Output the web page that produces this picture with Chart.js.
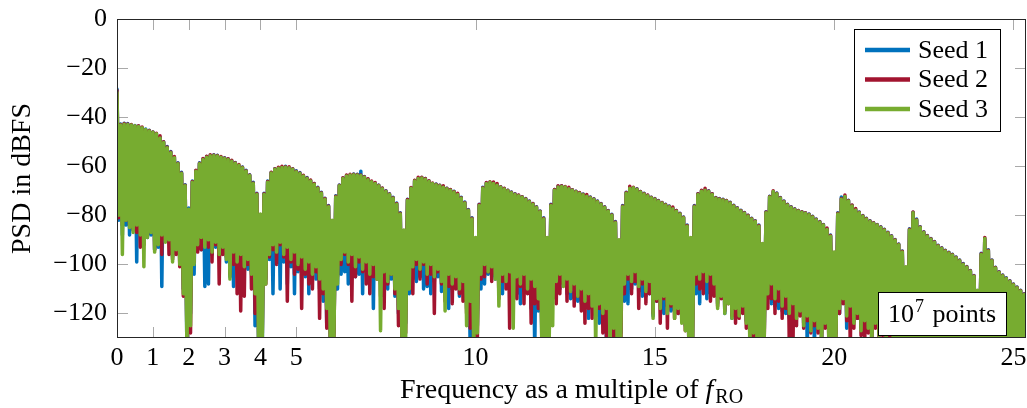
<!DOCTYPE html>
<html><head><meta charset="utf-8">
<script src="https://cdn.jsdelivr.net/npm/chart.js@4.4.0/dist/chart.umd.min.js"></script>
<style>html,body{margin:0;padding:0;background:#fff;}#wrap{width:1027px;height:408px;}</style>
</head><body><div id="wrap"><canvas id="c" width="1027" height="408"></canvas></div>
<script>
const seriesNames = ['Seed 1', 'Seed 2', 'Seed 3'];
const seriesColors = ['#0072BD', '#A2142F', '#77AC30'];
const xTickValues = [0, 1, 2, 3, 4, 5, 10, 15, 20, 25];
const yTickValues = [0, -20, -40, -60, -80, -100, -120];
const freqStart = 0, freqStep = 0.1;

// upper envelope (at f = i*0.1) and lower excursions (at f = i*0.1 + 0.05), dBFS
const seed1High = [
-28.5,-42.8,-42.5,-42.6,-43.3,-43.4,-43.6,-44.5,-44.8,-45.3,-46.0,-46.9,-48.2,-50.0,-52.0,-54.0,-56.3,-58.6,-62.5,-67.5,
-77.0,-66.0,-61.8,-58.6,-57.0,-56.0,-55.6,-55.3,-55.5,-56.5,-56.5,-57.0,-57.8,-58.5,-59.8,-60.3,-61.6,-63.5,-66.5,-71.0,
-80.0,-71.0,-66.0,-62.6,-61.0,-60.9,-60.6,-60.0,-60.8,-61.0,-61.8,-62.6,-64.2,-64.6,-65.8,-67.0,-68.6,-70.6,-73.0,-76.0,
-82.5,-72.0,-67.6,-64.8,-63.8,-63.7,-63.2,-63.3,-62.0,-64.2,-65.2,-66.5,-66.8,-67.7,-69.0,-70.0,-71.2,-72.6,-75.0,-79.0,
-86.5,-73.5,-68.8,-65.8,-65.2,-64.6,-65.0,-66.0,-67.2,-67.2,-67.7,-68.3,-69.0,-69.6,-70.2,-71.3,-72.6,-74.6,-77.6,-81.0,
-89.5,-75.5,-68.6,-66.8,-66.6,-66.7,-67.5,-68.4,-69.1,-69.8,-70.5,-71.2,-71.8,-72.4,-73.2,-74.2,-75.2,-76.5,-78.2,-81.0,
-89.5,-75.5,-69.5,-68.2,-68.0,-68.7,-69.0,-69.6,-70.2,-70.8,-71.3,-72.0,-72.5,-73.3,-74.2,-75.2,-76.5,-78.0,-79.6,-82.5,
-90.5,-76.0,-70.6,-68.8,-68.9,-69.2,-70.3,-71.0,-71.8,-72.6,-73.2,-74.0,-74.8,-75.5,-76.2,-77.0,-78.0,-79.2,-80.7,-84.0,
-89.5,-76.0,-71.2,-70.0,-69.9,-70.0,-71.2,-72.7,-73.2,-73.5,-74.0,-74.7,-75.9,-76.9,-77.9,-78.9,-80.0,-81.2,-82.2,-84.0,
-92.0,-78.5,-72.2,-70.5,-70.9,-72.7,-74.2,-75.5,-76.5,-77.3,-78.0,-78.5,-79.0,-79.5,-80.4,-81.5,-82.5,-83.7,-85.5,-88.0,
-95.5,-79.0,-72.5,-72.6,-73.9,-75.9,-77.5,-78.7,-80.1,-81.2,-82.2,-83.0,-83.7,-84.7,-85.7,-86.9,-88.3,-89.9,-91.7,-94.5,
-101.5,-85.5,-78.8,-81.5,-84.7,-86.7,-88.2,-89.5,-90.7,-92.2,-93.2,-94.2,-95.1,-95.9,-97.0,-98.2,-99.6,-100.9,-102.5,-104.5,
-111.0,-95.5,-89.6,-94.0,-98.2,-101.2,-103.0,-104.3,-105.4,-106.7,-108.0,-109.2,-110.5,-112.0,-113.2
];
const seed1Low = [
-82,-88,-84,-88,-86,-99,-87,-90,-89,-88,-94,-93,-109,-90,-91,-97,-95,-99,-110,-135,
-120,-104,-91,-94,-109,-108,-96,-93,-94,-92,-99,-105,-109,-97,-95,-100,-102,-103,-125,-135,
-135,-106,-98,-112,-97,-110,-99,-108,-101,-112,-103,-100,-105,-112,-102,-106,-110,-115,-125,-130,
-128,-110,-104,-103,-108,-100,-105,-104,-112,-102,-100,-118,-101,-108,-103,-110,-106,-113,-120,-130,
-124,-112,-106,-107,-105,-110,-109,-112,-107,-105,-111,-110,-118,-110,-107,-113,-112,-118,-135,-135,
-125,-110,-108,-104,-105,-106,-108,-112,-106,-108,-109,-112,-116,-108,-111,-118,-135,-119,-135,-135,
-132,-110,-112,-110,-108,-112,-114,-114,-115,-116,-112,-122,-118,-118,-124,-121,-132,-125,-130,-133,
-128,-115,-116,-110,-108,-111,-113,-113,-112,-121,-115,-115,-120,-117,-119,-119,-120,-121,-125,-135,
-130,-112,-116,-108,-114,-112,-110,-116,-111,-120,-113,-122,-117,-120,-119,-123,-130,-127,-133,-135,
-128,-114,-116,-117,-118,-119,-120,-122,-124,-121,-118,-124,-135,-126,-135,-125,-130,-123,-128,-135,
-128,-120,-113,-126,-118,-123,-122,-126,-128,-125,-130,-123,-128,-126,-133,-127,-133,-135,-135,-135,
-135,-135,-135,-135,-135,-135,-135,-135,-135,-135,-135,-135,-135,-135,-135,-135,-135,-135,-135,-135,
-135,-135,-135,-135,-135,-135,-135,-135,-135,-135,-135,-135,-135,-135,-135
];
const seed2High = [
-29.0,-43.0,-42.6,-42.8,-43.0,-43.6,-43.5,-44.0,-45.2,-45.4,-46.0,-46.6,-47.6,-50.0,-52.2,-54.2,-56.0,-58.8,-62.8,-67.8,
-77.8,-66.2,-61.6,-58.8,-56.8,-55.9,-55.3,-55.4,-55.6,-56.0,-56.6,-57.0,-57.6,-58.6,-59.3,-60.4,-61.8,-63.6,-66.8,-71.2,
-79.8,-71.2,-66.2,-62.5,-61.0,-60.4,-60.0,-60.2,-60.2,-61.0,-62.0,-62.8,-63.7,-64.8,-65.6,-67.0,-68.8,-70.8,-73.2,-76.2,
-82.2,-72.2,-67.8,-64.7,-63.6,-63.3,-63.3,-63.4,-63.6,-64.3,-65.1,-66.0,-66.6,-67.8,-68.9,-70.1,-71.3,-72.8,-75.2,-79.2,
-86.2,-73.6,-68.7,-65.7,-64.5,-64.5,-65.0,-65.9,-66.8,-67.3,-67.8,-68.0,-69.0,-69.5,-70.3,-71.0,-72.8,-74.8,-77.8,-81.2,
-89.2,-75.6,-68.8,-66.6,-66.3,-66.4,-67.0,-68.4,-69.0,-69.8,-70.6,-71.3,-71.7,-72.4,-73.3,-74.3,-75.2,-76.6,-78.3,-81.2,
-89.2,-75.7,-69.5,-68.0,-68.0,-68.3,-68.6,-69.6,-70.2,-70.7,-71.4,-71.5,-72.6,-73.4,-74.3,-75.3,-76.6,-78.1,-79.8,-82.7,
-90.2,-76.2,-70.7,-68.2,-68.6,-69.3,-70.3,-71.1,-71.7,-72.6,-73.3,-74.1,-74.8,-75.6,-76.3,-76.6,-78.0,-79.3,-80.8,-84.2,
-89.2,-76.2,-71.2,-69.8,-69.0,-70.1,-71.2,-72.8,-73.3,-73.6,-74.0,-74.8,-76.0,-77.0,-78.0,-79.0,-80.0,-81.3,-82.3,-84.2,
-91.7,-78.7,-72.3,-70.0,-71.0,-72.8,-74.3,-75.6,-76.6,-77.4,-78.0,-78.6,-79.0,-79.6,-80.5,-81.6,-82.6,-83.8,-85.2,-88.2,
-95.2,-79.2,-73.2,-71.7,-74.0,-75.8,-77.2,-78.8,-80.2,-81.3,-82.3,-83.0,-83.8,-84.8,-85.8,-87.0,-88.4,-90.0,-91.8,-94.6,
-101.2,-85.7,-78.7,-81.8,-84.8,-86.8,-88.3,-89.6,-90.8,-92.3,-93.3,-94.3,-95.2,-96.0,-97.1,-98.3,-99.8,-101.0,-102.6,-104.6,
-110.7,-95.7,-89.0,-94.2,-98.3,-101.3,-103.1,-104.4,-105.6,-106.8,-108.1,-109.3,-110.6,-112.1,-113.3
];
const seed2Low = [
-81,-84,-82,-84,-86,-87,-93,-92,-88,-86,-94,-91,-96,-90,-96,-98,-96,-101,-113,-130,
-128,-99,-95,-94,-92,-93,-99,-92,-108,-96,-97,-104,-100,-112,-119,-113,-100,-110,-120,-130,
-130,-108,-97,-94,-100,-92,-97,-115,-99,-104,-102,-118,-104,-108,-110,-103,-122,-112,-126,-135,
-130,-105,-100,-96,-100,-115,-105,-99,-103,-108,-112,-105,-106,-113,-118,-108,-104,-112,-125,-135,
-128,-108,-112,-100,-106,-100,-108,-104,-120,-103,-108,-115,-109,-116,-110,-112,-115,-120,-126,-135,
-130,-106,-105,-103,-107,-104,-114,-107,-110,-126,-112,-114,-109,-116,-112,-124,-116,-118,-130,-135,
-133,-114,-116,-112,-108,-115,-110,-117,-113,-119,-124,-118,-122,-121,-118,-128,-130,-124,-133,-135,
-135,-112,-106,-112,-107,-118,-108,-116,-112,-120,-115,-124,-114,-126,-117,-122,-120,-123,-127,-135,
-133,-108,-110,-112,-106,-115,-113,-117,-114,-119,-116,-121,-124,-122,-120,-126,-132,-130,-135,-135,
-131,-118,-114,-120,-115,-122,-118,-135,-135,-125,-121,-126,-123,-128,-125,-128,-132,-126,-131,-135,
-131,-120,-116,-123,-135,-126,-122,-129,-135,-128,-135,-126,-130,-129,-135,-130,-135,-135,-135,-135,
-135,-135,-135,-135,-135,-135,-135,-135,-135,-135,-135,-135,-135,-135,-135,-135,-135,-135,-135,-135,
-135,-135,-135,-135,-135,-135,-135,-135,-135,-135,-135,-135,-135,-135,-135
];
const seed3High = [
-30.0,-43.2,-42.9,-43.0,-43.2,-43.5,-43.8,-44.3,-45.0,-45.6,-46.2,-46.8,-48.5,-50.3,-52.5,-54.5,-56.5,-59.0,-63.0,-68.0,
-77.5,-66.5,-62.0,-59.0,-57.3,-56.3,-55.7,-55.6,-55.8,-56.3,-56.8,-57.3,-58.0,-58.8,-59.6,-60.6,-62.0,-63.8,-67.0,-71.5,
-79.5,-71.5,-66.5,-62.8,-61.2,-60.8,-60.5,-60.4,-60.6,-61.2,-62.2,-63.0,-64.0,-65.0,-66.0,-67.3,-69.0,-71.0,-73.5,-76.5,
-82.0,-72.5,-68.0,-65.0,-64.0,-63.6,-63.5,-63.6,-63.8,-64.5,-65.5,-66.3,-67.0,-68.0,-69.2,-70.3,-71.5,-73.0,-75.5,-79.5,
-86.0,-74.0,-69.0,-66.0,-65.0,-64.8,-65.3,-66.2,-67.0,-67.5,-68.0,-68.6,-69.2,-69.8,-70.5,-71.5,-73.0,-75.0,-78.0,-81.5,
-89.0,-76.0,-69.0,-67.0,-66.5,-67.0,-67.8,-68.6,-69.3,-70.0,-70.8,-71.5,-72.0,-72.6,-73.5,-74.5,-75.5,-76.8,-78.5,-81.5,
-89.0,-76.0,-69.8,-68.5,-68.3,-68.5,-69.2,-69.8,-70.4,-71.0,-71.6,-72.2,-72.8,-73.6,-74.5,-75.5,-76.8,-78.3,-80.0,-83.0,
-90.0,-76.5,-71.0,-69.0,-68.8,-69.5,-70.5,-71.3,-72.0,-72.8,-73.5,-74.3,-75.0,-75.8,-76.5,-77.3,-78.3,-79.5,-81.0,-84.5,
-89.0,-76.5,-71.5,-70.2,-69.8,-70.3,-71.5,-73.0,-73.5,-73.8,-74.2,-75.0,-76.2,-77.2,-78.2,-79.2,-80.3,-81.5,-82.5,-84.5,
-91.5,-79.0,-72.5,-70.3,-71.2,-73.0,-74.5,-75.8,-76.8,-77.6,-78.2,-78.8,-79.2,-79.8,-80.7,-81.8,-82.8,-84.0,-85.8,-88.5,
-95.0,-79.5,-73.5,-72.3,-74.2,-76.2,-77.8,-79.0,-80.4,-81.5,-82.5,-83.2,-84.0,-85.0,-86.0,-87.2,-88.6,-90.2,-92.0,-95.0,
-101.0,-86.0,-79.0,-82.0,-85.0,-87.0,-88.5,-89.8,-91.0,-92.5,-93.5,-94.5,-95.4,-96.2,-97.3,-98.5,-100.0,-101.2,-102.8,-104.8,
-110.5,-96.0,-89.5,-94.5,-98.5,-101.5,-103.3,-104.6,-105.8,-107.0,-108.3,-109.5,-110.8,-112.3,-113.5
];
const seed3Low = [
-80,-96,-82,-85,-87,-84,-88,-101,-89,-87,-95,-92,-88,-91,-90,-99,-94,-100,-112,-135,
-125,-100,-92,-89,-93,-90,-95,-91,-96,-93,-98,-106,-95,-99,-96,-101,-98,-104,-112,-135,
-135,-108,-96,-92,-95,-91,-96,-93,-98,-95,-100,-97,-102,-99,-104,-101,-106,-110,-118,-135,
-130,-108,-98,-95,-99,-96,-101,-97,-102,-99,-104,-100,-106,-127,-103,-107,-104,-110,-118,-135,
-130,-110,-101,-98,-102,-99,-104,-100,-105,-102,-107,-119,-104,-108,-105,-110,-107,-125,-115,-135,
-128,-104,-100,-103,-101,-106,-117,-104,-107,-103,-126,-105,-108,-104,-110,-106,-109,-114,-135,-135,
-135,-125,-107,-104,-109,-106,-111,-108,-113,-110,-115,-112,-117,-135,-116,-120,-118,-135,-126,-135,
-130,-108,-104,-107,-103,-109,-106,-111,-107,-122,-114,-118,-113,-120,-116,-122,-118,-124,-127,-135,
-135,-104,-106,-103,-107,-104,-108,-118,-113,-120,-116,-122,-118,-121,-117,-124,-135,-128,-135,-135,
-130,-112,-108,-114,-110,-117,-113,-120,-116,-122,-119,-125,-121,-127,-123,-126,-135,-124,-130,-135,
-130,-118,-114,-121,-117,-124,-120,-127,-123,-126,-135,-124,-129,-127,-135,-128,-135,-135,-135,-135,
-135,-135,-135,-135,-135,-135,-135,-135,-135,-135,-135,-135,-135,-135,-135,-135,-135,-135,-135,-135,
-135,-135,-135,-135,-135,-135,-135,-135,-135,-135,-135,-135,-135,-135,-135
];

function zigzag(high, low) {
  const pts = [];
  const n = Math.min(high.length, low.length);
  for (let i = 0; i < n; i++) {
    const f = freqStart + i * freqStep;
    pts.push({x: f, y: high[i]});
    pts.push({x: f + freqStep / 2, y: low[i]});
  }
  return pts;
}

const SERIF = '"Liberation Serif", "DejaVu Serif", serif';
const highs = [seed1High, seed2High, seed3High];
const lows = [seed1Low, seed2Low, seed3Low];

const decor = {
  id: 'decor',
  beforeDatasetsDraw(chart) {
    const {ctx, chartArea: a, scales: {x, y}} = chart;
    ctx.save();
    ctx.strokeStyle = '#a9a9a9';
    ctx.lineWidth = 1;
    ctx.beginPath();
    xTickValues.forEach(v => {
      const p = Math.round(x.getPixelForValue(v)) + 0.5;
      ctx.moveTo(p, a.bottom); ctx.lineTo(p, a.bottom - 11);
      ctx.moveTo(p, a.top); ctx.lineTo(p, a.top + 11);
    });
    yTickValues.forEach(v => {
      const p = Math.round(y.getPixelForValue(v)) + 0.5;
      ctx.moveTo(a.left, p); ctx.lineTo(a.left + 11, p);
      ctx.moveTo(a.right, p); ctx.lineTo(a.right - 11, p);
    });
    ctx.stroke();
    ctx.restore();
  },
  afterDatasetsDraw(chart) {
    const {ctx, chartArea: a} = chart;
    ctx.save();
    ctx.strokeStyle = '#262626';
    ctx.lineWidth = 1;
    ctx.strokeRect(Math.floor(a.left) + 0.5, Math.floor(a.top) + 0.5,
      Math.round(a.right - a.left) - 1, Math.round(a.bottom - a.top) - 1);
    ctx.restore();
  },
  afterDraw(chart) {
    const {ctx, chartArea: a} = chart;
    ctx.save();
    // legend
    const lx = a.right - 172, ly = a.top + 10, lw = 146, lh = 102;
    ctx.fillStyle = '#fff';
    ctx.fillRect(lx, ly, lw, lh);
    ctx.strokeStyle = '#000'; ctx.lineWidth = 1;
    ctx.strokeRect(lx + 0.5, ly + 0.5, lw, lh);
    ctx.font = '26px ' + SERIF;
    ctx.textBaseline = 'middle';
    ctx.textAlign = 'left';
    chart.data.datasets.forEach((ds, k) => {
      const yy = ly + 21 + k * 29.5;
      ctx.strokeStyle = ds.borderColor; ctx.lineWidth = 4.5; ctx.lineCap = 'butt';
      ctx.beginPath(); ctx.moveTo(lx + 11, yy); ctx.lineTo(lx + 56, yy); ctx.stroke();
      ctx.fillStyle = '#000';
      ctx.fillText(ds.label, lx + 64, yy + 1);
    });
    // annotation box
    const bx = a.right - 148, by = a.bottom - 46, bw = 128, bh = 43;
    ctx.fillStyle = '#fff';
    ctx.fillRect(bx, by, bw, bh);
    ctx.strokeStyle = '#000'; ctx.lineWidth = 1;
    ctx.strokeRect(bx + 0.5, by + 0.5, bw, bh);
    ctx.fillStyle = '#000';
    ctx.textBaseline = 'alphabetic';
    const base = by + 30;
    let tx = bx + 10;
    ctx.font = '26px ' + SERIF;
    ctx.fillText('10', tx, base); tx += ctx.measureText('10').width + 1;
    ctx.font = '18px ' + SERIF;
    ctx.fillText('7', tx, base - 10); tx += ctx.measureText('7').width;
    ctx.font = '26px ' + SERIF;
    ctx.fillText(' points', tx + 2, base);
    // x axis title
    const parts = [
      {t: 'Frequency as a multiple of ', f: '28px ' + SERIF, dy: 0},
      {t: 'f', f: 'italic 28px ' + SERIF, dy: 0},
      {t: 'RO', f: '20px ' + SERIF, dy: 5}
    ];
    let total = 0;
    parts.forEach(p => { ctx.font = p.f; p.w = ctx.measureText(p.t).width; total += p.w; });
    total += 2;
    let px = (a.left + a.right) / 2 - total / 2;
    const tb = 398;
    parts.forEach((p, i) => {
      ctx.font = p.f;
      ctx.fillText(p.t, px, tb + p.dy);
      px += p.w + (i === 1 ? 2 : 0);
    });
    ctx.restore();
  }
};

const datasets = [0, 1, 2].map(k => ({
  label: seriesNames[k],
  data: zigzag(highs[k], lows[k]),
  borderColor: seriesColors[k],
  backgroundColor: seriesColors[k],
  borderWidth: 3.5,
  borderJoinStyle: 'round',
  borderCapStyle: 'round',
  pointRadius: 0,
  tension: 0,
  fill: false,
  clip: 0,
  order: 3 - k
}));

new Chart(document.getElementById('c'), {
  type: 'line',
  data: {datasets},
  options: {
    responsive: false,
    devicePixelRatio: 1,
    animation: false,
    events: [],
    layout: {padding: {top: 19, right: 1, left: 0, bottom: 0}},
    plugins: {legend: {display: false}, tooltip: {enabled: false}},
    scales: {
      x: {
        type: 'linear', min: 0, max: 25.35,
        grid: {display: false, drawTicks: false},
        border: {display: false},
        afterBuildTicks: s => { s.ticks = xTickValues.map(v => ({value: v})); },
        afterFit: s => { s.height = 70; s.paddingLeft = 0; s.paddingRight = 0; },
        ticks: {
          autoSkip: false, maxRotation: 0, padding: 5, color: '#000',
          font: {family: SERIF, size: 26},
          callback: v => String(v)
        }
      },
      y: {
        type: 'linear', min: -130, max: 0,
        grid: {display: false, drawTicks: false},
        border: {display: false},
        afterBuildTicks: s => { s.ticks = yTickValues.map(v => ({value: v})); },
        afterFit: s => { s.width = 117; s.paddingTop = 0; s.paddingBottom = 0; },
        ticks: {
          padding: 10, color: '#000',
          font: {family: SERIF, size: 26},
          callback: v => (v < 0 ? '\u2212' + Math.abs(v) : String(v))
        },
        title: {
          display: true, text: 'PSD in dBFS', color: '#000',
          font: {family: SERIF, size: 28},
          padding: {top: 6, bottom: 0}
        }
      }
    }
  },
  plugins: [decor]
});
</script>
</body></html>
